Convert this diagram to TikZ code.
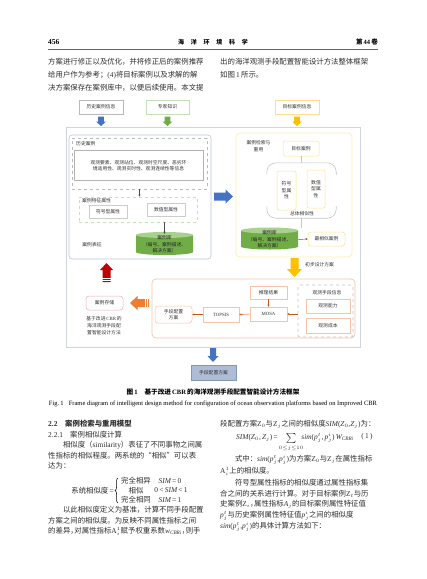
\documentclass[tikz,border=0pt]{standalone}
\usepackage[no-math]{fontspec}
\usepackage{graphicx}
\setmainfont{Noto Sans CJK SC}
\newfontfamily\lat{Liberation Serif}
\usetikzlibrary{arrows.meta,decorations.pathreplacing}
\XeTeXlinebreaklocale "zh"
\XeTeXlinebreakskip=0pt plus 1pt
\newdimen\colw \colw=157.5pt
\newdimen\indw \indw=142.7pt
\newcommand\vv[1]{{\lat\itshape #1}}
\newcommand\hc{\hbox to 0.55em{，\hss}}
\newcommand\sbx[1]{\smash{$_{#1}$}}
\newcommand\ssx[2]{\smash{$_{#1}^{#2}$}}
\newcommand\tsb[1]{\smash{\textsubscript{\vv{#1}}}}
\definecolor{blueA}{HTML}{4472C4}
\definecolor{greenL}{HTML}{C5E0B4}
\definecolor{yelA}{HTML}{FFC000}
\definecolor{yelL}{HTML}{FFE08A}
\definecolor{yelP}{HTML}{FFEDB8}
\definecolor{frameC}{HTML}{CDD5E2}
\definecolor{panelC}{HTML}{BAC6DA}
\definecolor{orgA}{HTML}{ED7D31}
\definecolor{orgL}{HTML}{F4C6A6}
\definecolor{orgD}{HTML}{C55A11}
\definecolor{redA}{HTML}{C00000}
\definecolor{pinkL}{HTML}{E8AEB3}
\definecolor{cylB}{HTML}{70AD47}
\definecolor{cylT}{HTML}{A9D18E}
\definecolor{finF}{HTML}{AEBCD6}
\definecolor{finD}{HTML}{8497B0}
\newcommand\barrowv[7]{\fill[#1] ({#2-#5},#3) -- ({#2+#5},#3) -- ({#2+#5},{#4-#7}) -- ({#2+#6},{#4-#7}) -- (#2,#4) -- ({#2-#6},{#4-#7}) -- ({#2-#5},{#4-#7}) -- cycle;}
\newcommand\barrowh[7]{\fill[#1] (#3,{#2-#5}) -- ({#4-#7},{#2-#5}) -- ({#4-#7},{#2-#6}) -- (#4,#2) -- ({#4-#7},{#2+#6}) -- ({#4-#7},{#2+#5}) -- (#3,{#2+#5}) -- cycle;}
\newcommand\cylshape[4]{\begin{scope}[shift={(#1,#2)}, y=1pt]
 \fill[cylB] ({-#3/2},{#4/2-3}) -- ({-#3/2},{-#4/2+3}) arc[start angle=180,end angle=360,x radius=#3/2,y radius=3] -- ({#3/2},{#4/2-3}) -- cycle;
 \fill[cylT] (0,{#4/2-3}) ellipse [x radius=#3/2, y radius=3];
 \end{scope}}
\begin{document}
\begin{tikzpicture}[x=1pt,y=-1pt,
  dg/.style={font=\fontsize{4.8}{6.6}\selectfont, text=black!80, align=center, inner sep=0pt},
  bx/.style={dg, draw, line width=0.5pt},
  body/.style={font=\fontsize{7.4}{9}\selectfont, inner sep=0pt, anchor=west, text=black!82},
  sarrow/.style={draw=#1, line width=0.45pt, -{Stealth[length=2.2pt,width=2.2pt]}},
  brk/.style={draw=gray!45, line width=0.6pt}]
\fill[white] (0,0) rectangle (427,579);
\useasboundingbox (0,0) rectangle (427,579);
% header
\node[font=\lat\bfseries\fontsize{7.5}{9}\selectfont, anchor=west, inner sep=0] (pg) at (48,42) {456};
\node[font=\bfseries\fontsize{6}{7}\selectfont, inner sep=0] (jn) at (213,42) {\hbox to 70pt{海\hfil 洋\hfil 环\hfil 境\hfil 科\hfil 学}};
\node[font=\bfseries\fontsize{6.5}{8}\selectfont, anchor=east, inner sep=0] (vol) at (378,42) {第\,{\lat 44}\,卷};
\coordinate (rl) at (48,49); \coordinate (rr) at (378,49);
\draw[line width=1pt, black!60] (rl) -- (rr);
% top text
\node[body] (l1) at (48,62) {\hbox to \colw{方案进行修正以及优化，并将修正后的案例推荐}};
\node[body] (l2) at (48,75) {\hbox to \colw{给用户作为参考；{\lat (4)}将目标案例以及求解的解}};
\node[body] (l3) at (48,88) {\hbox to \colw{决方案保存在案例库中，以便后续使用。本文提}};
\node[body] (r1) at (220,62) {\hbox to \colw{出的海洋观测手段配置智能设计方法整体框架}};
\node[body] (r2) at (220,75) {如图{\lat\,1\,}所示。};
% top info boxes
\node[bx, draw=gray!55, minimum width=44pt, minimum height=14pt] (hinfo) at (101,107) {历史案例信息};
\node[bx, draw=greenL, minimum width=43pt, minimum height=14pt] (expert) at (167.5,107) {专家知识};
\node[bx, draw=yelL, minimum width=44pt, minimum height=14pt] (tinfo) at (297,107) {目标案例信息};
\barrowv{fill=blueA}{101}{116.5}{126}{2.8}{5}{4.5}
\barrowv{fill=cylB}{167.5}{116.5}{126}{2.8}{5}{4.5}
\barrowv{fill=yelA}{297}{116.5}{126}{2.8}{5}{4.5}
% outer frame
\node[draw=frameC, line width=0.9pt, minimum width=294pt, minimum height=220pt, inner sep=0] (frame) at (213,237) {};
% left panel
\node[draw=panelC, line width=0.6pt, rounded corners=3pt, minimum width=142pt, minimum height=124pt, inner sep=0] (lpanel) at (140,197) {};
\node[draw=gray!55, dashed, line width=0.6pt, minimum width=135pt, minimum height=51pt, inner sep=0] (hist) at (139.5,163.5) {};
\node[dg, anchor=west] (histlbl) at (76,144) {历史案例};
\node[bx, draw=gray!60, minimum width=129pt, minimum height=30pt] (info) at (138.5,165.5) {观测要素、观测站位、观测时空尺度、恶劣环\\境适用性、观测实时性、观测连续性等信息};
\node[draw=greenL, dashed, line width=0.7pt, minimum width=118pt, minimum height=25pt, inner sep=0] (feat) at (138,209.5) {};
\node[dg, anchor=west] (featlbl) at (82,200.5) {案例特征属性};
\node[bx, draw=gray!40, minimum width=38pt, minimum height=13pt] (sym1) at (108,211.5) {符号型属性};
\node[bx, draw=gray!40, minimum width=38pt, minimum height=13pt] (num1) at (166,209.5) {数值型属性};
\cylshape{164.5}{243.5}{57}{23}
\node[dg, minimum width=57pt, minimum height=23pt, text=black!85] (cyl1) at (164.5,244.5) {案例库\\（编号、案例描述、\\解决方案）};
\node[dg] (rep) at (92,245) {案例表征};
\draw[sarrow=black!70] (hist.south) -- (hist.south |- feat.north);
\draw[sarrow=black!70] (feat.south -| cyl1.north) -- ([yshift=-1pt]cyl1.north);
% middle arrow
\barrowh{fill=blueA}{196.5}{214}{233}{4}{7}{7.5}
% right panel
\node[draw=yelP, line width=0.8pt, rounded corners=4pt, minimum width=116pt, minimum height=124pt, inner sep=0] (rpanel) at (294,195) {};
\node[dg] (retr) at (258.5,146) {案例检索与\\重用};
\node[bx, draw=yelL, rounded corners=1.5pt, minimum width=36pt, minimum height=15pt] (tgt) at (301,148.5) {目标案例};
\node[minimum width=69pt, minimum height=55pt, inner sep=0] (grp) at (301.5,190.5) {};
\draw[brk, rounded corners=9pt] ([yshift=-12pt]grp.north west) -- (grp.north west) -- (grp.north east) -- ([yshift=-12pt]grp.north east);
\draw[brk, rounded corners=9pt] ([yshift=12pt]grp.south west) -- (grp.south west) -- (grp.south east) -- ([yshift=12pt]grp.south east);
\node[bx, draw=yelL, rounded corners=2pt, minimum width=19pt, minimum height=39pt] (sym2) at (286.5,190.5) {符号\\型属\\性};
\node[bx, draw=yelL, rounded corners=2pt, minimum width=18pt, minimum height=38pt] (num2) at (316,189) {数值\\型属\\性};
\node[dg] (grplbl) at (302,214) {总体相似性};
\cylshape{269.5}{238.5}{57}{22}
\node[dg, minimum width=57pt, minimum height=22pt, text=black!85] (cyl2) at (269.5,239.5) {案例库\\（编号、案例描述、\\解决方案）};
\node[bx, draw=yelL, rounded corners=3pt, minimum width=37pt, minimum height=14pt] (best) at (326.5,239) {最相似案例};
\draw[brk] (tgt.south) -- (tgt.south |- grp.north);
\draw[brk] (grp.south) -- (grp.south |- cyl2.north);
\draw[sarrow=black!65] (cyl2.east) -- (best.west);
% yellow arrow
\barrowv{fill=yelA}{294.5}{258}{277}{4}{7.5}{8}
\node[dg, anchor=west] (prel) at (305,265) {初步设计方案};
% bottom panel
\node[draw=orgL, line width=0.7pt, rounded corners=4pt, minimum width=203pt, minimum height=59pt, inner sep=0] (bpanel) at (253.5,308.5) {};
\node[bx, draw=orgL, minimum width=37pt, minimum height=13pt] (res) at (268.5,292.5) {推理结果};
\node[bx, draw=orgL, minimum width=37pt, minimum height=14pt] (mosa) at (268.5,314) {{\lat MOSA}};
\node[draw=gray!45, dashed, line width=0.7pt, rounded corners=2pt, minimum width=55pt, minimum height=52pt, inner sep=0] (obs) at (325.5,311) {};
\node[dg] (obslbl) at (327,293) {观测手段信息};
\node[bx, draw=orgL, minimum width=44pt, minimum height=14pt] (capab) at (328,306) {观测能力};
\node[bx, draw=orgL, minimum width=44pt, minimum height=15pt] (cost) at (328,325.5) {观测成本};
\node[bx, draw=orgL, minimum width=36pt, minimum height=15pt] (topsis) at (221,314.5) {{\lat TOPSIS}};
\node[bx, draw=orgL, rounded corners=3pt, minimum width=37pt, minimum height=17pt] (plan1) at (173.5,314.5) {手段配置\\方案};
\draw[sarrow=orgD] (res.south) -- (mosa.north);
\draw[sarrow=orgD] (obs.west |- mosa.east) -- (mosa.east);
\draw[sarrow=orgD] (mosa.west) -- (topsis.east);
\draw[sarrow=orgD] (topsis.west) -- (plan1.east);
% orange & red arrows
\barrowh{fill=orgA}{303}{149}{130}{4}{7}{(-7.5)}
\draw[white, line width=0.6pt] (145.5,298.5) -- (145.5,307.5) (147.5,298.5) -- (147.5,307.5);
\node[bx, draw=pinkL, rounded corners=3pt, minimum width=37pt, minimum height=14pt] (store) at (104.5,303) {案例存储};
\barrowv{fill=redA}{106.5}{282}{263}{4}{6.5}{(-7)}
\draw[white, line width=0.6pt] (102,278.5) -- (111,278.5) (102,280.5) -- (111,280.5);
\node[dg, align=center, font=\fontsize{4.8}{7}\selectfont] (desc) at (104,326) {基于改进\,{\lat CBR}\,的\\海洋观测手段配\\置智能设计方法};
% output
\barrowv{fill=blueA}{213}{348}{362}{3}{5.5}{6}
\node[bx, draw=finD, fill=finF, minimum width=45pt, minimum height=15pt] (final) at (213.5,372.5) {手段配置方案};
% captions
\node[font=\bfseries\fontsize{6.6}{8}\selectfont, inner sep=0] (cap1) at (213,392) {图\,{\lat 1}\hspace{7pt}基于改进\,{\lat CBR}\,的海洋观测手段配置智能设计方法框架};
\node[inner sep=0] (cap2) at (213,404) {\resizebox{328pt}{!}{\lat Fig.\,1\hspace{8pt}Frame diagram of intelligent design method for configuration of ocean observation platforms based on Improved CBR}};
% bottom left column
\node[body] (h22) at (48,424) {\makebox[17pt][l]{\lat\bfseries 2.2}{\bfseries 案例检索与重用模型}};
\node[body] (h221) at (48,434.5) {\makebox[22pt][l]{\lat 2.2.1}案例相似度计算};
\node[body] (p1) at (62.8,445) {\hbox to \indw{相似度（{\lat similarity}）表征了不同事物之间属}};
\node[body] (p2) at (48,455.5) {\hbox to \colw{性指标的相似程度。两系统的“相似”可以表}};
\node[body] (p3) at (48,466) {达为：};
\node[body, anchor=east] (fsys) at (114,490.5) {系统相似度\,{\lat =}};
\coordinate (bt) at (118,478); \coordinate (bb) at (118,503);
\draw[decorate, decoration={brace, amplitude=3pt}, line width=0.5pt] (bb) -- (bt);
\node[body, anchor=center] (c1a) at (136,481) {完全相异};
\node[body, anchor=center] (c1b) at (170,481) {{\lat\vv{SIM}\,=\,0}};
\node[body, anchor=center] (c2a) at (136,490.5) {相似};
\node[body, anchor=center] (c2b) at (171,490.5) {{\lat 0\,<\,\vv{SIM}\,<\,1}};
\node[body, anchor=center] (c3a) at (136,500) {完全相同};
\node[body, anchor=center] (c3b) at (170,500) {{\lat\vv{SIM}\,=\,1}};
\node[body] (p4) at (62.8,510) {\hbox to \indw{以此相似度定义为基准，计算不同手段配置}};
\node[body] (p5) at (48,520.5) {\hbox to \colw{方案之间的相似度。为反映不同属性指标之间}};
\node[body] (p6) at (48,531) {\hbox to \colw{的差异\hc 对属性指标{\lat A}\ssx{i}{1}赋予权重系数\vv{w}\tsb{CBRi}\hc 则手}};
% bottom right column
\node[body] (q1) at (220,424) {\hbox to \colw{段配置方案{\lat Z}\sbx{0}与{\lat Z}\sbx{j}之间的相似度\vv{SIM}{\lat (}\vv{Z}\sbx{0}{\lat ,}\vv{Z}\sbx{j}{\lat )}为：}};
\node[body] (eq1) at (236,438) {\vv{SIM}{\lat (}\vv{Z}\sbx{0}{\lat ,}\,\vv{Z}\sbx{j}{\lat )\,=}\hspace{8pt}\smash{$\sum\limits_{\makebox[0pt]{$\scriptscriptstyle 0\le j\le 10$}}$}\hspace{5pt}\vv{sim}{\lat (}\vv{p}\ssx{j}{t}{\lat ,}\,\vv{p}\ssx{j}{i}{\lat )}\,\vv{W}\tsb{CBRi}};
\node[body, anchor=center] (eqn) at (367,437) {{\lat (\,1\,)}};
\node[body] (q2) at (234.8,459) {\hbox to \indw{式中：\vv{sim}{\lat (}\vv{p}\ssx{j}{t}{\lat ,}\vv{p}\ssx{j}{i}{\lat )}为方案{\lat Z}\sbx{0}与{\lat Z}\sbx{j}在属性指标}};
\node[body] (q3) at (220,470.5) {{\lat A}\ssx{i}{1}上的相似度。};
\node[body] (q4) at (234.8,483) {\hbox to \indw{符号型属性指标的相似度通过属性指标集}};
\node[body] (q5) at (220,493.5) {\hbox to \colw{合之间的关系进行计算。对于目标案例{\lat Z}\sbx{t}与历}};
\node[body] (q6) at (220,504) {\hbox to \colw{史案例{\lat Z}\sbx{i}\hc 属性指标\vv{A}\sbx{j}的目标案例属性特征值}};
\node[body] (q7) at (220,515) {\hbox to \colw{\vv{p}\ssx{j}{t}与历史案例属性特征值\vv{p}\ssx{j}{i}之间的相似度}};
\node[body] (q8) at (220,526) {\vv{sim}{\lat (}\vv{p}\ssx{j}{t}{\lat ,}\vv{p}\ssx{j}{i}{\lat )}的具体计算方法如下：};
\end{tikzpicture}
\end{document}
